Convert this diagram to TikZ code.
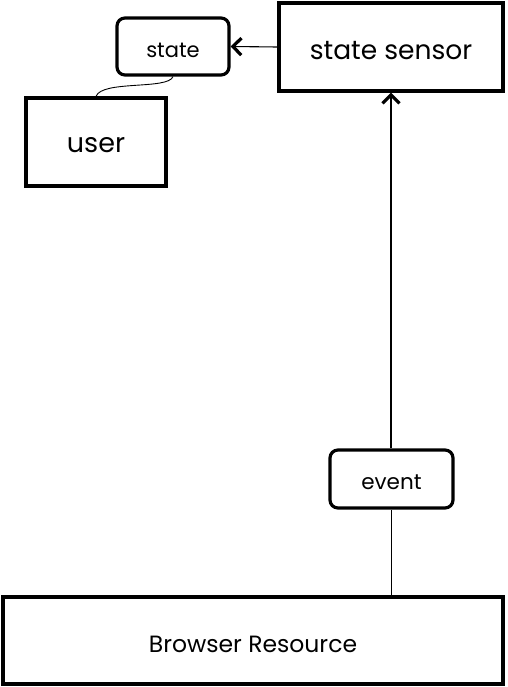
\documentclass[tikz,border=0pt]{standalone}
\usepackage{fontspec}
\setmainfont{Poppins}
\usetikzlibrary{arrows.meta}
\newcommand\lowr[1]{\raisebox{-3.5pt}[\height][\depth]{#1}}
\begin{document}
\begin{tikzpicture}[x=1pt,y=-1pt,
  box/.style={draw,line width=3.2pt,inner sep=0pt,anchor=center},
  rbox/.style={box,rounded corners=8pt},
  conn/.style={line width=1.1pt},
  tip/.style={-{Straight Barb[length=8.5pt,width=17pt,line width=3.2pt]}}]
\useasboundingbox (0,0) rectangle (507,687);
\node[rbox,minimum width=112pt,minimum height=57pt,font=\fontsize{21}{24}\selectfont] (state) at (173,46.5) {\lowr{state}};
\node[box,minimum width=224pt,minimum height=88pt,font=\fontsize{26.5}{30}\selectfont] (sensor) at (391,47) {\lowr{state sensor}};
\node[box,minimum width=140pt,minimum height=88pt,font=\fontsize{27}{30}\selectfont] (user) at (96,142) {\lowr{user}};
\node[rbox,minimum width=123pt,minimum height=58pt,font=\fontsize{21.5}{24}\selectfont] (event) at (391.5,479) {\lowr{event}};
\node[box,minimum width=500pt,minimum height=87pt,font=\fontsize{23.5}{27}\selectfont] (browser) at (253,640.5) {\lowr{Browser Resource}};
\draw[conn,tip] (sensor.west) -- (state.east);
\draw[conn,tip] (event.north -| sensor.south) -- (sensor.south);
\draw[conn] (browser.north -| event.south) -- (event.south);
\draw[conn,line width=0.9pt] (state.south) .. controls (168,90) and (102,80) .. (user.north);
\end{tikzpicture}
\end{document}
